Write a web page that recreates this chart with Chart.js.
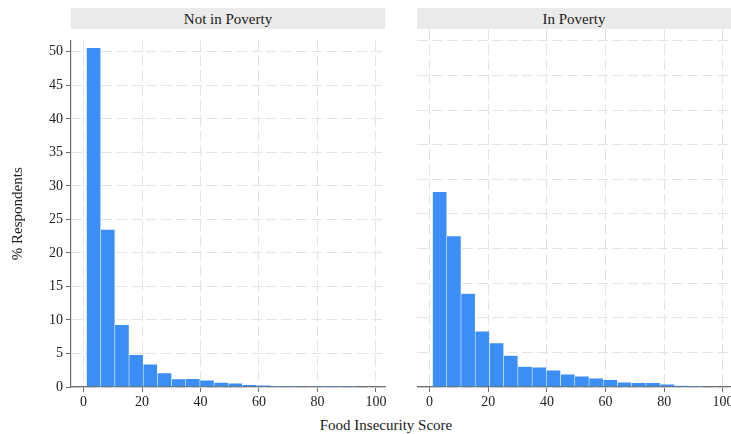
<!DOCTYPE html>
<html><head><meta charset="utf-8">
<script src="https://cdn.jsdelivr.net/npm/chart.js@4/dist/chart.umd.min.js"></script>
<style>
html,body{margin:0;padding:0;width:731px;height:434px;overflow:hidden;background:#fff;font-family:"Liberation Serif",serif;color:#1a1a1a;}
.strip{position:absolute;top:8px;height:21px;background:#ebebeb;font-size:15px;line-height:22px;text-align:center;}
#s1{left:71px;width:314px;}
#s2{left:417px;width:314px;}
#w1{position:absolute;left:0;top:29px;}
#w2{position:absolute;left:417px;top:29px;}
#xtitle{position:absolute;left:236px;width:300px;top:417px;text-align:center;font-size:15px;}
</style></head>
<body>
<div class="strip" id="s1">Not in Poverty</div>
<div class="strip" id="s2">In Poverty</div>
<div id="w1"><canvas id="c1" width="392" height="383"></canvas></div>
<div id="w2"><canvas id="c2" width="330" height="383"></canvas></div>
<div id="xtitle">Food Insecurity Score</div>
<script>
const panelTitles = ["Not in Poverty", "In Poverty"];
const binCenters = [3.425, 8.275, 13.125, 17.975, 22.825, 27.675, 32.525, 37.375, 42.225, 47.075, 51.925, 56.775, 61.625, 66.475, 71.325, 76.175, 81.025, 85.875, 90.725];
const notInPoverty = [50.6, 23.5, 9.3, 4.8, 3.4, 2.1, 1.2, 1.25, 1.0, 0.68, 0.55, 0.35, 0.25, 0.12, 0.1, 0.08, 0.03, 0.02, 0.01];
const inPoverty = [28.2, 21.8, 13.5, 8.05, 6.35, 4.55, 2.95, 2.85, 2.43, 1.85, 1.56, 1.28, 1.05, 0.7, 0.6, 0.6, 0.41, 0.22, 0.12];
const xTicks = [0, 20, 40, 60, 80, 100];
const yTicks = [0, 5, 10, 15, 20, 25, 30, 35, 40, 45, 50];
const yTitle = "% Respondents";

const font = {family: "'Liberation Serif', serif", size: 14};
const gridColor = '#e4e4e4';
const axisColor = '#6e6e6e';

function makeChart(id, values, showY) {
  const ctx = document.getElementById(id);
  return new Chart(ctx, {
    type: 'bar',
    data: {
      datasets: [{
        data: binCenters.map((c, i) => ({x: c, y: values[i]})),
        backgroundColor: '#3a8ef6',
        borderColor: 'rgba(255,255,255,0.28)',
        borderWidth: 0.6,
        categoryPercentage: 1,
        barPercentage: 1
      }]
    },
    options: {
      responsive: false,
      animation: false,
      devicePixelRatio: 1,
      layout: {padding: showY ? {left: 9, right: 7, top: 0, bottom: 0} : {left: 0, right: 15, top: 0, bottom: 0}},
      plugins: {legend: {display: false}, tooltip: {enabled: false}},
      scales: {
        x: {
          type: 'linear',
          offset: false,
          min: -4.3,
          max: 103.1,
          afterBuildTicks: s => { s.ticks = xTicks.map(v => ({value: v})); },
          afterFit: s => { s.height = 25; },
          ticks: {font: font, color: '#222', padding: 2, maxRotation: 0, autoSkip: false},
          grid: {offset: false, color: gridColor, tickColor: axisColor, tickLength: 5, tickBorderDash: []},
          border: {color: axisColor, width: 1.2, dash: [11, 4]}
        },
        y: {
          min: 0,
          max: 51.7,
          afterBuildTicks: s => { s.ticks = yTicks.map(v => ({value: v})); },
          afterFit: s => { s.width = showY ? 62 : 0; },
          ticks: {display: showY, font: font, color: '#222', padding: 3},
          title: {display: showY, text: yTitle, font: {family: "'Liberation Serif', serif", size: 15}, color: '#222', padding: 0},
          grid: {color: gridColor, tickColor: axisColor, tickLength: 5, drawTicks: showY, tickBorderDash: []},
          border: {display: showY, color: axisColor, width: 1.2, dash: [11, 4]}
        }
      }
    }
  });
}
makeChart('c1', notInPoverty, true);
makeChart('c2', inPoverty, false);
</script>
</body></html>
